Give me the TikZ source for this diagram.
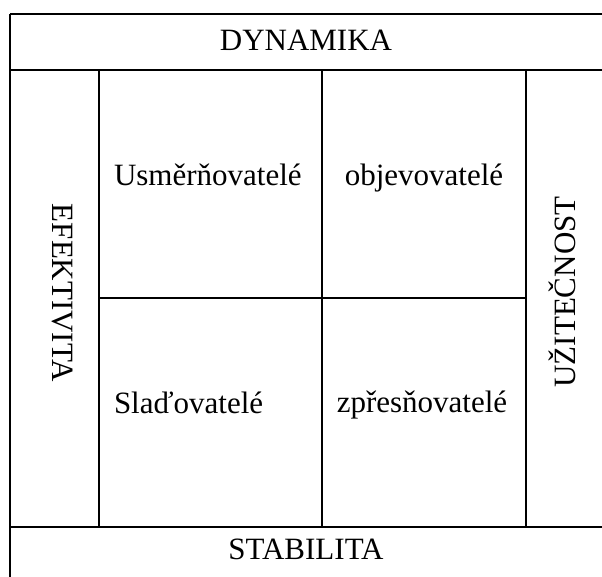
\documentclass[tikz,border=0pt]{standalone}
\usepackage{fontspec}
\setmainfont{Liberation Serif}
\begin{document}
\begin{tikzpicture}[x=1pt,y=-1pt,line width=2pt,
    label/.style={font=\fontsize{31}{37}\selectfont,inner sep=0pt}]
              \useasboundingbox (0,0) rectangle (602,576);
              \clip (0,0) rectangle (602,576);

              % grid corners
              \coordinate (tl) at (10,14);
              \coordinate (tr) at (610,14);
              \coordinate (bl) at (10,590);
              \coordinate (h1l) at (10,70);
              \coordinate (h1r) at (610,70);
              \coordinate (h2l) at (10,527);
              \coordinate (h2r) at (610,527);
              \coordinate (v1t) at (99,70);
              \coordinate (v1b) at (99,527);
              \coordinate (v2t) at (322,70);
              \coordinate (v2b) at (322,527);
              \coordinate (v3t) at (526,70);
              \coordinate (v3b) at (526,527);
              \coordinate (ml) at (99,298);
              \coordinate (mr) at (526,298);

              \path (tl) edge (tr);
              \path (tl) edge (bl);
              \path (h1l) edge (h1r);
              \path (h2l) edge (h2r);
              \path (v1t) edge (v1b);
              \path (v2t) edge (v2b);
              \path (v3t) edge (v3b);
              \path (ml) edge (mr);

              \node[label,anchor=base] (dyn) at (306,50) {DYNAMIKA};
              \node[label,anchor=base] (stab) at (306,559) {STABILITA};
              \node[label,anchor=base,rotate=-90] (efe) at (52,293) {EFEKTIVITA};
              \node[label,anchor=base,rotate=90] (uzi) at (575,292) {UŽITEČNOST};
              \node[label,anchor=base west] (usm) at (113,185) {Usměrňovatelé};
              \node[label,anchor=base] (obj) at (424,185) {objevovatelé};
              \node[label,anchor=base west] (sla) at (113,413) {Slaďovatelé};
              \node[label,anchor=base] (zpr) at (422,412) {zpřesňovatelé};
          \end{tikzpicture}
\end{document}
